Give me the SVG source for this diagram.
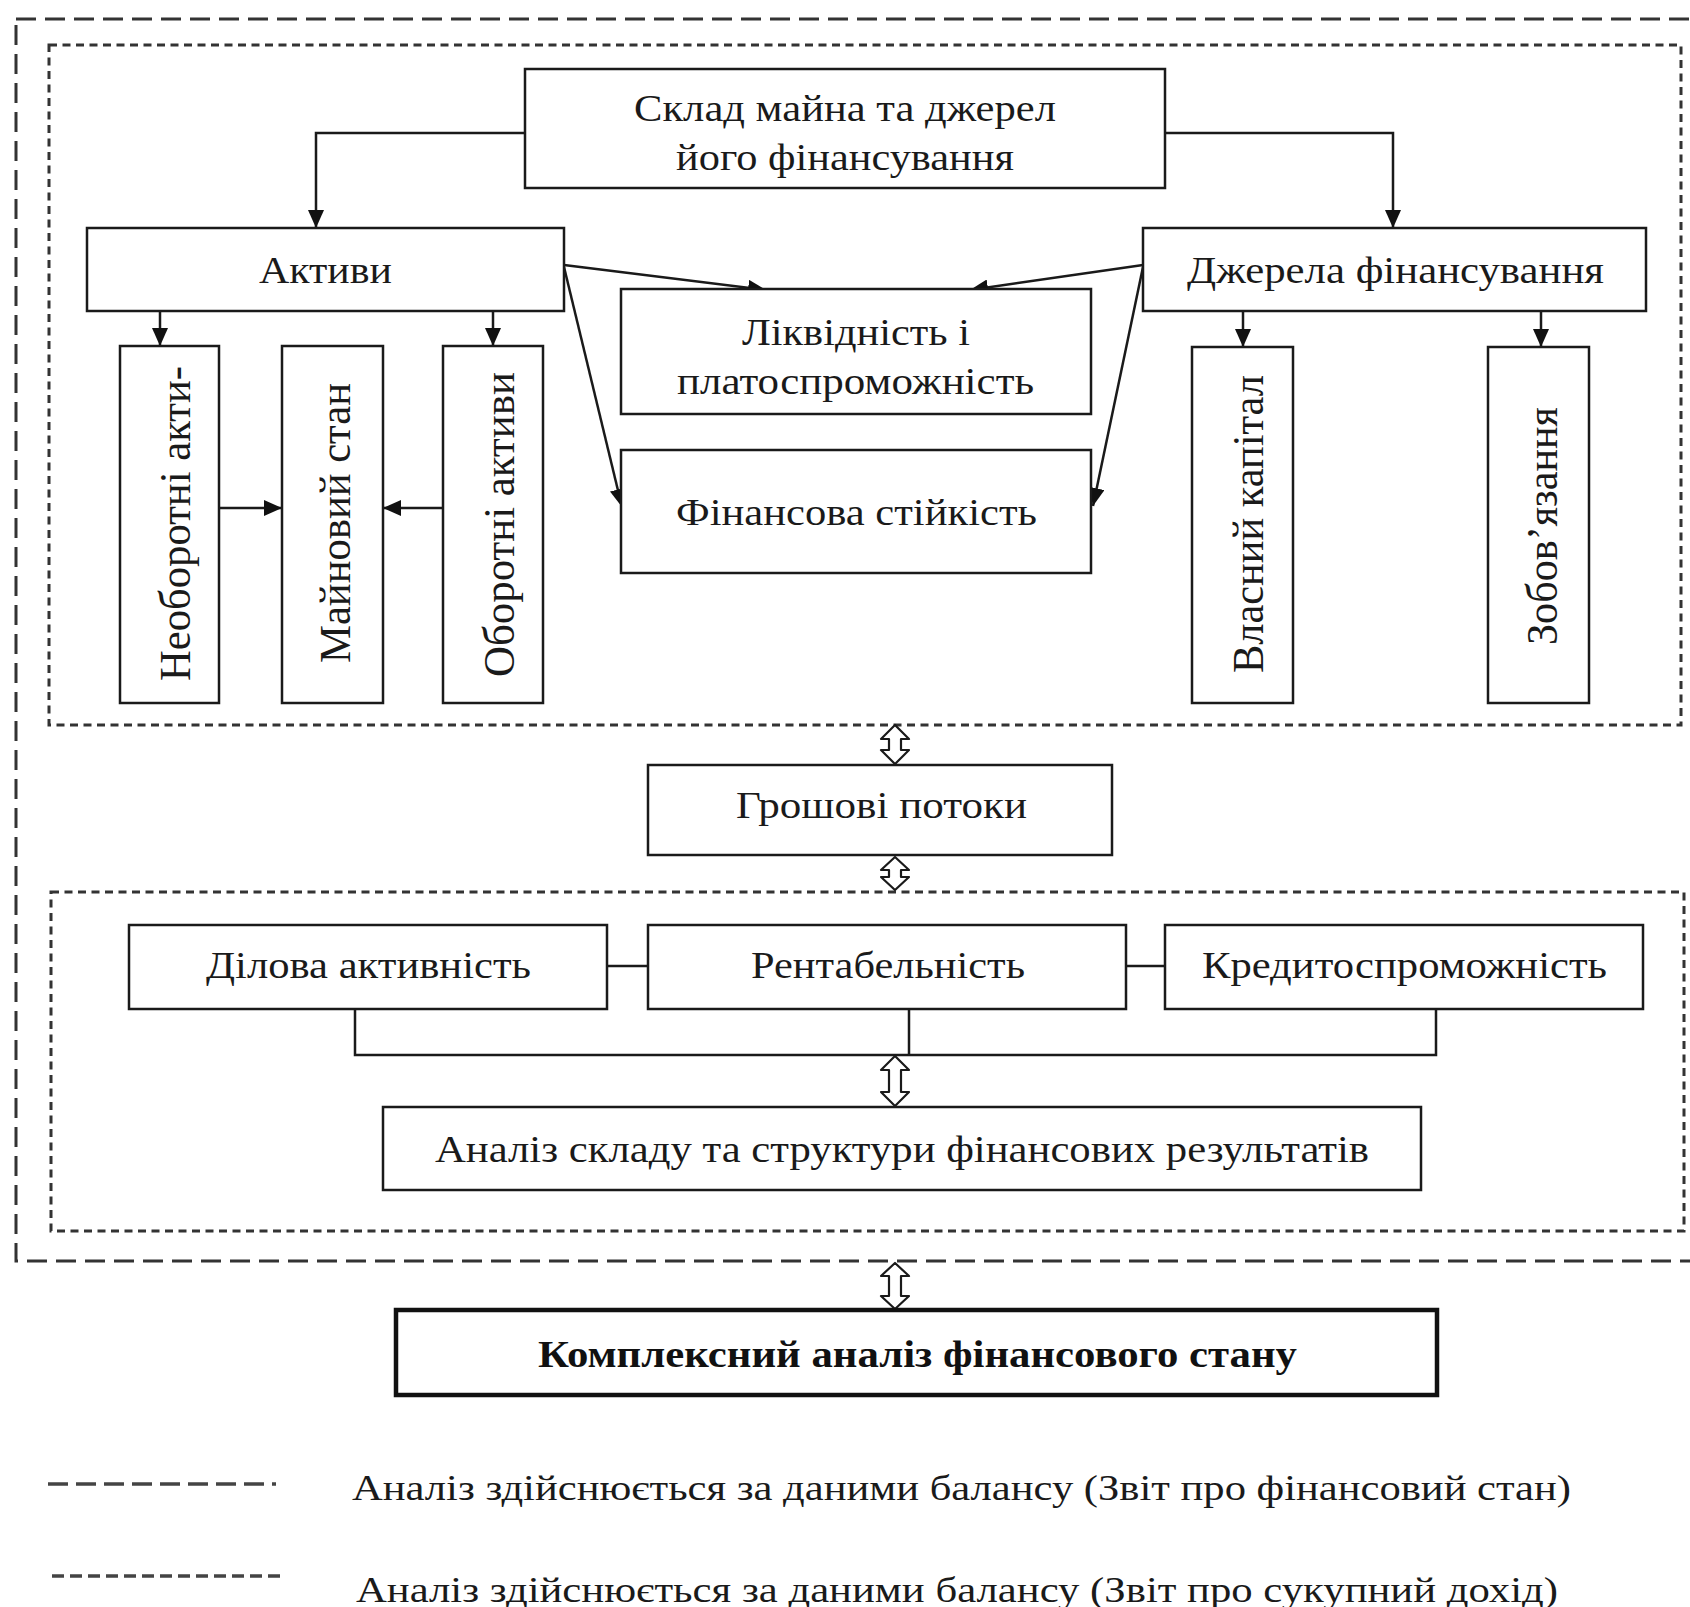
<svg xmlns="http://www.w3.org/2000/svg" width="1690" height="1607" viewBox="0 0 1690 1607">
<style>
  .box{fill:#fff;stroke:#1a1a1a;stroke-width:2.5}
  .bold{fill:#fff;stroke:#111;stroke-width:4.5}
  .t{font-family:"Liberation Serif","Times New Roman",serif;font-size:38px;fill:#1a1a1a}
  .v{font-family:"Liberation Serif","Times New Roman",serif;font-size:44px;fill:#1a1a1a}
  .b{font-family:"Liberation Serif","Times New Roman",serif;font-size:38px;font-weight:bold;fill:#111}
  .lg{font-family:"Liberation Serif","Times New Roman",serif;font-size:36px;fill:#1a1a1a}
  .ln{fill:none;stroke:#1a1a1a;stroke-width:2.5}
  .outer{fill:none;stroke:#333;stroke-width:3;stroke-dasharray:20 9}
  .inner{fill:none;stroke:#333;stroke-width:3;stroke-dasharray:8 5.5}
  .dbl{fill:#fff;stroke:#1a1a1a;stroke-width:2.2;stroke-linejoin:round}
</style>
<defs>
  <marker id="ah" viewBox="0 0 18 16" refX="18" refY="8" markerWidth="18" markerHeight="16" markerUnits="userSpaceOnUse" orient="auto">
    <path d="M0,0 L18,8 L0,16 z" fill="#111"/>
  </marker>
</defs>
<rect x="0" y="0" width="1690" height="1607" fill="#fff"/>

<g id="frames">
  <rect class="outer" x="16" y="19" width="1700" height="1242"/>
  <rect class="inner" x="49" y="45" width="1632" height="680"/>
  <rect class="inner" x="51" y="892" width="1633" height="339"/>
</g>

<g id="connectors">
  <polyline class="ln" points="525,133 316,133 316,228" marker-end="url(#ah)"/>
  <polyline class="ln" points="1165,133 1393,133 1393,228" marker-end="url(#ah)"/>
  <line class="ln" x1="160" y1="311" x2="160" y2="346" marker-end="url(#ah)"/>
  <line class="ln" x1="493" y1="311" x2="493" y2="346" marker-end="url(#ah)"/>
  <line class="ln" x1="1243" y1="311" x2="1243" y2="347" marker-end="url(#ah)"/>
  <line class="ln" x1="1541" y1="311" x2="1541" y2="347" marker-end="url(#ah)"/>
  <line class="ln" x1="219" y1="508" x2="282" y2="508" marker-end="url(#ah)"/>
  <line class="ln" x1="443" y1="508" x2="383" y2="508" marker-end="url(#ah)"/>
  <line class="ln" x1="564" y1="265" x2="766" y2="290" marker-end="url(#ah)"/>
  <line class="ln" x1="564" y1="267" x2="622" y2="507" marker-end="url(#ah)"/>
  <line class="ln" x1="1143" y1="265" x2="970" y2="290" marker-end="url(#ah)"/>
  <line class="ln" x1="1143" y1="267" x2="1093" y2="506" marker-end="url(#ah)"/>
  <line class="ln" x1="607" y1="966" x2="648" y2="966"/>
  <line class="ln" x1="1126" y1="966" x2="1165" y2="966"/>
  <polyline class="ln" points="355,1009 355,1055 1436,1055 1436,1009"/>
  <line class="ln" x1="909" y1="1009" x2="909" y2="1055"/>
  <path class="dbl" d="M895,725 L909,739 L901,739 L901,750 L909,750 L895,764 L881,750 L889,750 L889,739 L881,739 Z"/>
  <path class="dbl" d="M895,857 L909,870 L901,870 L901,877 L909,877 L895,890 L881,877 L889,877 L889,870 L881,870 Z"/>
  <path class="dbl" d="M895,1056 L909,1070 L901,1070 L901,1092 L909,1092 L895,1106 L881,1092 L889,1092 L889,1070 L881,1070 Z"/>
  <path class="dbl" d="M895,1263 L909,1276 L901,1276 L901,1296 L909,1296 L895,1309 L881,1296 L889,1296 L889,1276 L881,1276 Z"/>
</g>

<g id="n-sklad">
  <rect class="box" x="525" y="69" width="640" height="119"/>
  <text class="t" x="634" y="121" textLength="422" lengthAdjust="spacingAndGlyphs">Склад майна та джерел</text>
  <text class="t" x="676" y="170" textLength="338" lengthAdjust="spacingAndGlyphs">його фінансування</text>
</g>
<g id="n-aktyvy">
  <rect class="box" x="87" y="228" width="477" height="83"/>
  <text class="t" x="259" y="283" textLength="133" lengthAdjust="spacingAndGlyphs">Активи</text>
</g>
<g id="n-dzherela">
  <rect class="box" x="1143" y="228" width="503" height="83"/>
  <text class="t" x="1187" y="283" textLength="417" lengthAdjust="spacingAndGlyphs">Джерела фінансування</text>
</g>
<g id="n-likvidnist">
  <rect class="box" x="621" y="289" width="470" height="125"/>
  <text class="t" x="742" y="345" textLength="228" lengthAdjust="spacingAndGlyphs">Ліквідність і</text>
  <text class="t" x="677" y="394" textLength="357" lengthAdjust="spacingAndGlyphs">платоспроможність</text>
</g>
<g id="n-stiikist">
  <rect class="box" x="621" y="450" width="470" height="123"/>
  <text class="t" x="676" y="525" textLength="361" lengthAdjust="spacingAndGlyphs">Фінансова стійкість</text>
</g>
<g id="n-neoborotni">
  <rect class="box" x="120" y="346" width="99" height="357"/>
  <text class="v" x="190" y="681" transform="rotate(-90 190 681)" textLength="315" lengthAdjust="spacingAndGlyphs">Необоротні акти-</text>
</g>
<g id="n-mainovyi">
  <rect class="box" x="282" y="346" width="101" height="357"/>
  <text class="v" x="350" y="663" transform="rotate(-90 350 663)" textLength="280" lengthAdjust="spacingAndGlyphs">Майновий стан</text>
</g>
<g id="n-oborotni">
  <rect class="box" x="443" y="346" width="100" height="357"/>
  <text class="v" x="514" y="677" transform="rotate(-90 514 677)" textLength="305" lengthAdjust="spacingAndGlyphs">Оборотні активи</text>
</g>
<g id="n-vlasnyi">
  <rect class="box" x="1192" y="347" width="101" height="356"/>
  <text class="v" x="1263" y="673" transform="rotate(-90 1263 673)" textLength="298" lengthAdjust="spacingAndGlyphs">Власний капітал</text>
</g>
<g id="n-zoboviazannia">
  <rect class="box" x="1488" y="347" width="101" height="356"/>
  <text class="v" x="1557" y="645" transform="rotate(-90 1557 645)" textLength="238" lengthAdjust="spacingAndGlyphs">Зобов’язання</text>
</g>
<g id="n-groshovi">
  <rect class="box" x="648" y="765" width="464" height="90"/>
  <text class="t" x="736" y="818" textLength="291" lengthAdjust="spacingAndGlyphs">Грошові потоки</text>
</g>
<g id="n-dilova">
  <rect class="box" x="129" y="925" width="478" height="84"/>
  <text class="t" x="206" y="978" textLength="325" lengthAdjust="spacingAndGlyphs">Ділова активність</text>
</g>
<g id="n-rentabelnist">
  <rect class="box" x="648" y="925" width="478" height="84"/>
  <text class="t" x="751" y="978" textLength="274" lengthAdjust="spacingAndGlyphs">Рентабельність</text>
</g>
<g id="n-kredyto">
  <rect class="box" x="1165" y="925" width="478" height="84"/>
  <text class="t" x="1202" y="978" textLength="405" lengthAdjust="spacingAndGlyphs">Кредитоспроможність</text>
</g>
<g id="n-analiz">
  <rect class="box" x="383" y="1107" width="1038" height="83"/>
  <text class="t" x="435" y="1162" textLength="934" lengthAdjust="spacingAndGlyphs">Аналіз складу та структури фінансових результатів</text>
</g>
<g id="n-kompleksnyi">
  <rect class="bold" x="396" y="1310" width="1041" height="85"/>
  <text class="b" x="538" y="1367" textLength="759" lengthAdjust="spacingAndGlyphs">Комплексний аналіз фінансового стану</text>
</g>

<g id="legend">
  <line x1="48" y1="1484" x2="276" y2="1484" stroke="#444" stroke-width="3.5" stroke-dasharray="20 8"/>
  <text class="lg" x="352" y="1500" textLength="1219" lengthAdjust="spacingAndGlyphs">Аналіз здійснюється за даними балансу (Звіт про фінансовий стан)</text>
  <line x1="52" y1="1576" x2="286" y2="1576" stroke="#444" stroke-width="3.5" stroke-dasharray="12 6"/>
  <text class="lg" x="356" y="1602" textLength="1202" lengthAdjust="spacingAndGlyphs">Аналіз здійснюється за даними балансу (Звіт про сукупний дохід)</text>
</g>
</svg>
